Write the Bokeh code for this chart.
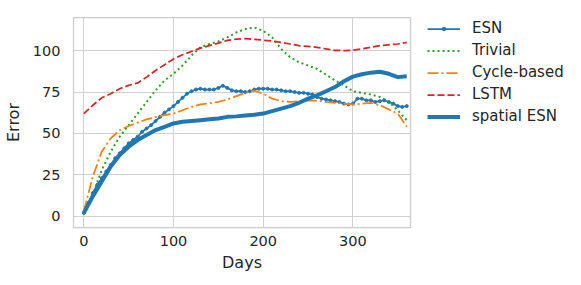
from bokeh.plotting import figure
from bokeh.models import Range1d, FixedTicker, Legend, LegendItem
from bokeh.embed import file_html
from bokeh.resources import INLINE

# ---- data ----
days_esn = list(range(0, 365, 5))
esn = [2, 8, 14, 19, 23, 27, 31, 35, 38, 41, 44, 46, 48, 51, 53, 55, 57.5, 60, 62.5, 64.5,
       66.5, 69, 71.5, 74, 75.5, 76.5, 77, 76.5, 76.5, 76.5, 77.5, 78.8, 77.5, 76, 75.5, 75.5,
       75, 75.5, 76.5, 77, 77, 77, 76.5, 76.5, 76, 75.5, 75.5, 75, 74.5, 74.5, 74, 73.5,
       72, 71, 70.5, 70, 69.5, 69, 68, 67.5, 68, 71, 71, 70, 70, 69, 69.5, 70, 69, 68,
       66.5, 66, 66.5]

days = list(range(0, 370, 10))
trivial = [1, 13, 28, 39, 48, 55, 62, 69, 76, 82, 86, 91, 97, 102, 104, 105.5, 108, 111,
           113, 114, 112, 108, 101, 96, 93, 91, 89, 85.5, 82, 79, 75.5, 74.5, 73.5, 72,
           69, 64, 58]
cycle = [3, 24, 39, 47, 52, 54.5, 56.5, 58.5, 59.8, 61, 62, 64, 66, 67.5, 68.2, 69, 70.5,
         72.5, 74.5, 75.8, 74, 71, 69.5, 69, 69.5, 70, 69.8, 69, 68.5, 68, 67.5, 68,
         68.5, 67, 64.5, 62, 54]
lstm = [62, 67, 71.5, 74, 77, 79, 80.5, 84, 88, 91.5, 95, 97.5, 99.5, 101.5, 103, 104.5,
        106.2, 107, 107.2, 106.8, 106.3, 105.8, 105, 104, 103, 102.5, 102, 101, 100.2,
        100, 100.3, 101, 102, 103, 103.5, 104, 105]
spatial = [2, 12, 21, 30, 37, 42, 46, 49, 52, 54, 56, 57, 57.5, 58, 58.5, 59, 60, 60.3,
           60.8, 61.3, 62, 63.5, 65, 66.5, 68.5, 71, 73, 75.5, 78, 81.5, 84.3, 85.7, 86.7,
           87.2, 86, 84, 84.5]

x_ticks = [0, 100, 200, 300]
y_ticks = [0, 25, 50, 75, 100]
labels = ["ESN", "Trivial", "Cycle-based", "LSTM", "spatial ESN"]

BLUE, GREEN, ORANGE, RED = "#1f77b4", "#2ca02c", "#ff7f0e", "#d62728"
FONT = "DejaVu Sans"

p = figure(frame_width=337, frame_height=210, output_backend="svg", toolbar_location=None,
           x_range=Range1d(-11.5, 364.2), y_range=Range1d(-6.8, 120),
           min_border_left=73, min_border_top=17, min_border_bottom=58, min_border_right=163)
p.background_fill_color = "white"
p.border_fill_color = "white"
p.outline_line_color = "#cccccc"
p.outline_line_width = 1.25

for ax in (p.xaxis[0], p.yaxis[0]):
    ax.axis_line_color = None
    ax.major_tick_line_color = None
    ax.minor_tick_line_color = None
    ax.major_tick_out = 0
    ax.major_tick_in = 0
    ax.major_label_text_font = FONT
    ax.major_label_text_font_size = "14.5px"
    ax.major_label_text_color = "#262626"
    ax.axis_label_text_font = FONT
    ax.axis_label_text_font_size = "16px"
    ax.axis_label_text_font_style = "normal"
    ax.axis_label_text_color = "#262626"

p.xaxis[0].ticker = FixedTicker(ticks=x_ticks)
p.yaxis[0].ticker = FixedTicker(ticks=y_ticks)
p.xaxis[0].axis_label = "Days"
p.yaxis[0].axis_label = "Error"
p.xaxis[0].major_label_standoff = 8
p.yaxis[0].major_label_standoff = 13
p.xaxis[0].axis_label_standoff = 4
p.yaxis[0].axis_label_standoff = 7

p.xgrid.grid_line_color = "#d0d0d0"
p.ygrid.grid_line_color = "#d0d0d0"
p.xgrid.grid_line_width = 1
p.ygrid.grid_line_width = 1

r_esn_l = p.line(days_esn, esn, line_color=BLUE, line_width=1.75)
r_esn_m = p.scatter(days_esn, esn, size=3, fill_color=BLUE, line_color=BLUE)
r_triv = p.line(days, trivial, line_color=GREEN, line_width=2, line_dash="2 3")
r_cyc = p.line(days, cycle, line_color=ORANGE, line_width=1.75, line_dash="11 3 2 3")
r_lstm = p.line(days, lstm, line_color=RED, line_width=1.75, line_dash="7 3")
r_sp = p.line(days, spatial, line_color=BLUE, line_width=4)

legend = Legend(items=[
    LegendItem(label=labels[0], renderers=[r_esn_l, r_esn_m]),
    LegendItem(label=labels[1], renderers=[r_triv]),
    LegendItem(label=labels[2], renderers=[r_cyc]),
    LegendItem(label=labels[3], renderers=[r_lstm]),
    LegendItem(label=labels[4], renderers=[r_sp]),
], location=(17, 101))
legend.margin = 0
legend.padding = 0
legend.spacing = 2
legend.glyph_width = 33
legend.glyph_height = 9
legend.label_height = 20
legend.label_standoff = 12
legend.label_text_font = FONT
legend.label_text_font_size = "15px"
legend.label_text_color = "#262626"
legend.border_line_color = None
legend.background_fill_alpha = 0
p.add_layout(legend, "right")

open("out.html", "w").write(file_html(p, INLINE))
